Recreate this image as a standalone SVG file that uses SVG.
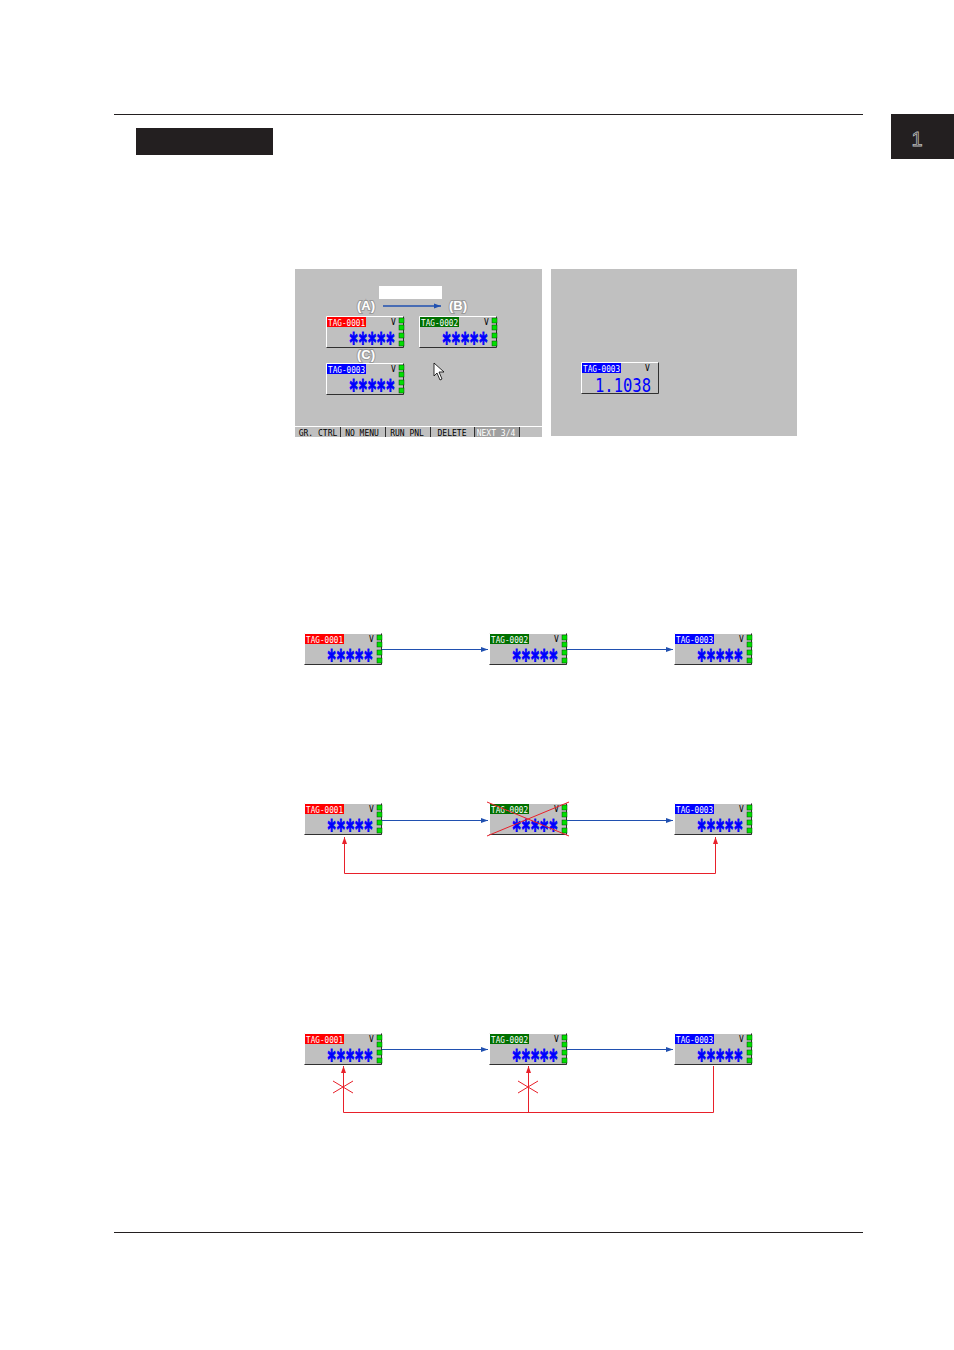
<svg xmlns="http://www.w3.org/2000/svg" width="954" height="1350" viewBox="0 0 954 1350">
<style>
.bg{fill:#c0c0c0}
.hi{stroke:#ffffff;stroke-width:1;fill:none}
.lo{stroke:#303030;stroke-width:1;fill:none}
.lbl{font-family:"DejaVu Sans Mono",monospace;font-size:8px;fill:#ffffff}
.v{font-family:"DejaVu Sans Mono",monospace;font-size:8px;fill:#000000}
.ast{font-family:"DejaVu Sans Mono",monospace;font-size:26px;font-weight:bold;fill:#0000ff;stroke:#0000ff;stroke-width:1}
.led{fill:#00e000;stroke:#004000;stroke-width:0.5}
.blue{stroke:#2050b0;stroke-width:1;fill:none}
.red{stroke:#e8202a;stroke-width:1;fill:none}
.menu{font-family:"DejaVu Sans Mono",monospace;font-size:8px;fill:#000000}
.pl{font-family:"Liberation Sans",Arial,sans-serif;font-size:13px;font-weight:bold;fill:#ffffff;stroke:#9a9a9a;stroke-width:2;paint-order:stroke}
</style>
<defs>
<marker id="ab" markerWidth="8" markerHeight="6" refX="7" refY="3" orient="auto" markerUnits="userSpaceOnUse"><path d="M0,0.5 L7,3 L0,5.5 Z" fill="#2050b0"/></marker>
<marker id="ar" markerWidth="8" markerHeight="6" refX="7" refY="3" orient="auto" markerUnits="userSpaceOnUse"><path d="M0,0.5 L7,3 L0,5.5 Z" fill="#e8202a"/></marker>
<g id="frame">
<rect x="0" y="0" width="78" height="32" class="bg"/>
<path d="M0.5,31.5 V0.5 H77.5" class="hi"/>
<path d="M0.5,31.5 H77.5 V0.5" class="lo"/>
<rect x="73" y="2" width="5" height="5" class="led"/>
<rect x="73" y="9" width="5" height="5" class="led"/>
<rect x="73" y="17" width="5" height="5" class="led"/>
<rect x="73" y="25" width="5" height="5" class="led"/>
<text x="65" y="9" class="v">V</text>
<text x="23" y="36" class="ast" textLength="46" lengthAdjust="spacingAndGlyphs">*****</text>
</g>
</defs>

<!-- page header -->
<g id="header">
<line x1="114" y1="114.5" x2="863" y2="114.5" stroke="#231f20" stroke-width="1"/>
<rect x="136" y="128" width="137" height="27" fill="#231f20"/>
<rect x="891" y="114" width="63" height="45" fill="#231f20"/>
<text x="917" y="146" font-family="Liberation Sans,Arial,sans-serif" font-size="20" fill="none" stroke="#bbbbbb" stroke-width="0.8" text-anchor="middle">1</text>
</g>
<g id="footer"><line x1="114" y1="1232.5" x2="863" y2="1232.5" stroke="#231f20" stroke-width="1"/></g>

<!-- left screen -->
<g id="screen-left">
<rect x="295" y="269" width="247" height="168" fill="#c0c0c0"/>
<rect x="379" y="286" width="63" height="13" fill="#ffffff"/>
<text x="366" y="310" class="pl" text-anchor="middle">(A)</text>
<text x="458" y="310" class="pl" text-anchor="middle">(B)</text>
<text x="366" y="359" class="pl" text-anchor="middle">(C)</text>
<line x1="383" y1="306" x2="441" y2="306" stroke="#2050b0" stroke-width="1.6" marker-end="url(#ab)"/>
<g id="s-tag1" transform="translate(326,316)"><use href="#frame"/><rect x="1" y="1" width="39" height="10" fill="#ff0000"/><text x="2" y="9.5" class="lbl" textLength="37" lengthAdjust="spacingAndGlyphs">TAG-0001</text></g>
<g id="s-tag2" transform="translate(419,316)"><use href="#frame"/><rect x="1" y="1" width="39" height="10" fill="#007000"/><text x="2" y="9.5" class="lbl" textLength="37" lengthAdjust="spacingAndGlyphs">TAG-0002</text></g>
<g id="s-tag3" transform="translate(326,363)"><use href="#frame"/><rect x="1" y="1" width="39" height="10" fill="#0000ff"/><text x="2" y="9.5" class="lbl" textLength="37" lengthAdjust="spacingAndGlyphs">TAG-0003</text></g>
<path d="M434,363 L434,376 L437,373 L440,380 L442,379 L439,372 L444,372 Z" fill="#ffffff" stroke="#000000" stroke-width="0.8"/>
<g id="menubar">
<rect x="295" y="426" width="247" height="11" fill="#c0c0c0"/>
<line x1="295" y1="426.5" x2="542" y2="426.5" stroke="#ffffff"/>
<rect x="475" y="427" width="44" height="10" fill="#a0a0a0"/>
<path d="M340.5,427 V437 M385.5,427 V437 M430.5,427 V437 M474.5,427 V437 M519.5,427 V437" stroke="#303030" stroke-width="1"/>
<text x="318" y="435.5" class="menu" text-anchor="middle">GR. CTRL</text>
<text x="362" y="435.5" class="menu" text-anchor="middle">NO MENU</text>
<text x="407" y="435.5" class="menu" text-anchor="middle">RUN PNL</text>
<text x="452" y="435.5" class="menu" text-anchor="middle">DELETE</text>
<text x="496" y="435.5" class="menu" text-anchor="middle" style="fill:#ffffff">NEXT 3/4</text>
</g>
</g>

<!-- right screen -->
<g id="screen-right">
<rect x="551" y="269" width="246" height="167" fill="#c0c0c0"/>
<g id="r-tag" transform="translate(581,362)">
<rect x="0" y="0" width="78" height="32" class="bg"/>
<path d="M0.5,31.5 V0.5 H77.5" class="hi"/>
<path d="M0.5,31.5 H77.5 V0.5" class="lo"/>
<rect x="1" y="1" width="39" height="10" fill="#0000ff"/>
<text x="2" y="9.5" class="lbl" textLength="37" lengthAdjust="spacingAndGlyphs">TAG-0003</text>
<text x="64" y="9" class="v">V</text>
<text x="14" y="29.5" font-family="DejaVu Sans Mono,monospace" font-size="20" fill="#0000ff" textLength="56" lengthAdjust="spacingAndGlyphs">1.1038</text>
</g>
</g>

<!-- row 1 -->
<g id="r1-tag1" transform="translate(304,633)"><use href="#frame"/><rect x="1" y="1" width="39" height="10" fill="#ff0000"/><text x="2" y="9.5" class="lbl" textLength="37" lengthAdjust="spacingAndGlyphs">TAG-0001</text></g>
<g id="r1-tag2" transform="translate(489,633)"><use href="#frame"/><rect x="1" y="1" width="39" height="10" fill="#007000"/><text x="2" y="9.5" class="lbl" textLength="37" lengthAdjust="spacingAndGlyphs">TAG-0002</text></g>
<g id="r1-tag3" transform="translate(674,633)"><use href="#frame"/><rect x="1" y="1" width="39" height="10" fill="#0000ff"/><text x="2" y="9.5" class="lbl" textLength="37" lengthAdjust="spacingAndGlyphs">TAG-0003</text></g>

<!-- row 2 -->
<g id="r2-tag1" transform="translate(304,803)"><use href="#frame"/><rect x="1" y="1" width="39" height="10" fill="#ff0000"/><text x="2" y="9.5" class="lbl" textLength="37" lengthAdjust="spacingAndGlyphs">TAG-0001</text></g>
<g id="r2-tag2" transform="translate(489,803)"><use href="#frame"/><rect x="1" y="1" width="39" height="10" fill="#007000"/><text x="2" y="9.5" class="lbl" textLength="37" lengthAdjust="spacingAndGlyphs">TAG-0002</text></g>
<g id="r2-tag3" transform="translate(674,803)"><use href="#frame"/><rect x="1" y="1" width="39" height="10" fill="#0000ff"/><text x="2" y="9.5" class="lbl" textLength="37" lengthAdjust="spacingAndGlyphs">TAG-0003</text></g>

<!-- row 3 -->
<g id="r3-tag1" transform="translate(304,1033)"><use href="#frame"/><rect x="1" y="1" width="39" height="10" fill="#ff0000"/><text x="2" y="9.5" class="lbl" textLength="37" lengthAdjust="spacingAndGlyphs">TAG-0001</text></g>
<g id="r3-tag2" transform="translate(489,1033)"><use href="#frame"/><rect x="1" y="1" width="39" height="10" fill="#007000"/><text x="2" y="9.5" class="lbl" textLength="37" lengthAdjust="spacingAndGlyphs">TAG-0002</text></g>
<g id="r3-tag3" transform="translate(674,1033)"><use href="#frame"/><rect x="1" y="1" width="39" height="10" fill="#0000ff"/><text x="2" y="9.5" class="lbl" textLength="37" lengthAdjust="spacingAndGlyphs">TAG-0003</text></g>

<g id="connectors">
<line x1="382" y1="649.5" x2="488" y2="649.5" class="blue" marker-end="url(#ab)"/>
<line x1="567" y1="649.5" x2="673" y2="649.5" class="blue" marker-end="url(#ab)"/>
<line x1="382" y1="820.5" x2="488" y2="820.5" class="blue" marker-end="url(#ab)"/>
<line x1="567" y1="820.5" x2="673" y2="820.5" class="blue" marker-end="url(#ab)"/>
<path d="M344.5,873.5 V837" class="red" marker-end="url(#ar)"/>
<path d="M715.5,873.5 V837" class="red" marker-end="url(#ar)"/>
<path d="M344.5,873.5 H715.5" class="red"/>
<path d="M487,802 L569,836 M487,836 L569,802" class="red"/>
<line x1="382" y1="1049.5" x2="488" y2="1049.5" class="blue" marker-end="url(#ab)"/>
<line x1="567" y1="1049.5" x2="673" y2="1049.5" class="blue" marker-end="url(#ab)"/>
<path d="M343.5,1112.5 V1066" class="red" marker-end="url(#ar)"/>
<path d="M528.5,1112.5 V1066" class="red" marker-end="url(#ar)"/>
<path d="M713.5,1066 V1112.5 H343.5" class="red"/>
<path d="M333,1081 L353,1093 M333,1093 L353,1081" class="red"/>
<path d="M518,1081 L538,1093 M518,1093 L538,1081" class="red"/>
</g>
</svg>
